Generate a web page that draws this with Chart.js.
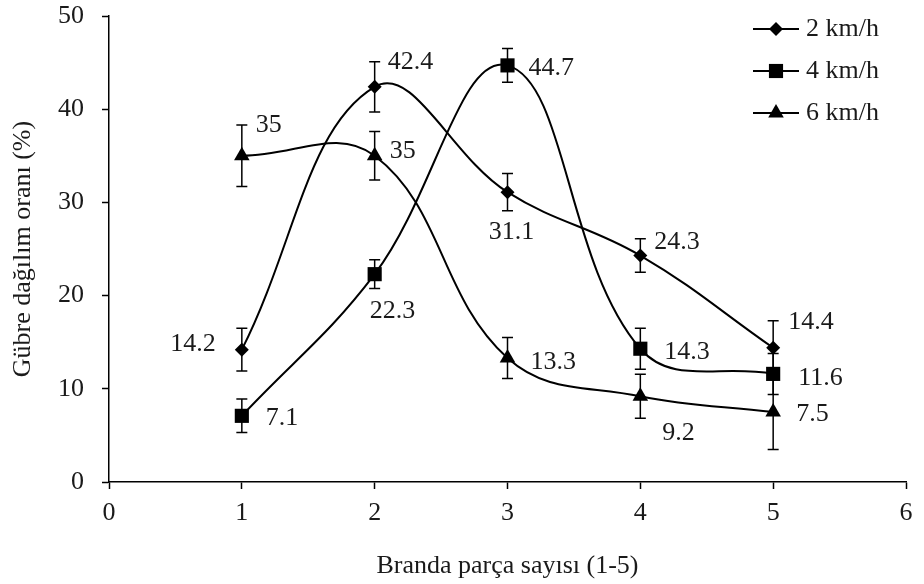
<!DOCTYPE html>
<html>
<head>
<meta charset="utf-8">
<script src="https://cdn.jsdelivr.net/npm/chart.js@4"></script>
<style>
  html, body { margin: 0; padding: 0; background: #fff; }
</style>
</head>
<body>
<canvas id="chart" width="924" height="584"></canvas>
<script>
// values
const pieces = [1, 2, 3, 4, 5];
const seriesNames = ['2 km/h', '4 km/h', '6 km/h'];
const rate2 = [14.2, 42.4, 31.1, 24.3, 14.4];
const rate4 = [7.1, 22.3, 44.7, 14.3, 11.6];
const rate6 = [35, 35, 13.3, 9.2, 7.5];
const err2 = [2.3, 2.7, 2.0, 1.8, 2.9];
const err4 = [1.8, 1.55, 1.8, 2.2, 2.2];
const err6 = [3.3, 2.6, 2.2, 2.35, 4.0];
const xTicks = [0, 1, 2, 3, 4, 5, 6];
const yTicks = [0, 10, 20, 30, 40, 50];

const FONT = '"Liberation Serif", "Times New Roman", serif';
const INK = '#1a1a1a';

// label placement next to each point: [dx, dy, align]
const labelPos = [
  [[-26, -5, 'right'], [13, -25, 'left'], [4, 40, 'center'], [14, -13, 'left'], [15, -26, 'left']],
  [[24, 2, 'left'], [-5, 37, 'left'], [21, 3, 'left'], [24, 3, 'left'], [25, 4, 'left']],
  [[14, -31, 'left'], [15, -5, 'left'], [23, 4, 'left'], [22, 37, 'left'], [23, 2, 'left']]
];
const markers = [
  { style: 'rectRot', radius: 7 },
  { style: 'rect', radius: 10 },
  { style: 'triangle', radius: 9 }
];

function drawMarker(ctx, style, x, y, r) {
  ctx.beginPath();
  if (style === 'rectRot') {
    ctx.moveTo(x, y - r); ctx.lineTo(x + r, y); ctx.lineTo(x, y + r); ctx.lineTo(x - r, y);
  } else if (style === 'rect') {
    const s = r * Math.SQRT1_2;
    ctx.rect(x - s, y - s, 2 * s, 2 * s);
  } else {
    ctx.moveTo(x, y - r);
    ctx.lineTo(x + r * Math.cos(Math.PI / 6), y + r / 2);
    ctx.lineTo(x - r * Math.cos(Math.PI / 6), y + r / 2);
  }
  ctx.closePath();
  ctx.fill();
}

const errorBars = {
  id: 'errorBars',
  beforeDatasetsDraw(chart) {
    const ctx = chart.ctx, ys = chart.scales.y;
    ctx.save();
    ctx.strokeStyle = '#000';
    ctx.lineWidth = 1.5;
    chart.data.datasets.forEach((ds, i) => {
      chart.getDatasetMeta(i).data.forEach((pt, j) => {
        const v = ds.data[j].y, e = ds.errors[j];
        const t = ys.getPixelForValue(v + e), b = ys.getPixelForValue(v - e);
        ctx.beginPath();
        ctx.moveTo(pt.x, t); ctx.lineTo(pt.x, b);
        ctx.moveTo(pt.x - 5.5, t); ctx.lineTo(pt.x + 5.5, t);
        ctx.moveTo(pt.x - 5.5, b); ctx.lineTo(pt.x + 5.5, b);
        ctx.stroke();
      });
    });
    ctx.restore();
  }
};

const valueLabels = {
  id: 'valueLabels',
  afterDatasetsDraw(chart) {
    const ctx = chart.ctx;
    ctx.save();
    ctx.font = '26px ' + FONT;
    ctx.fillStyle = INK;
    ctx.textBaseline = 'middle';
    chart.data.datasets.forEach((ds, i) => {
      chart.getDatasetMeta(i).data.forEach((pt, j) => {
        const p = labelPos[i][j];
        ctx.textAlign = p[2];
        ctx.fillText(String(ds.data[j].y), pt.x + p[0], pt.y + p[1]);
      });
    });
    ctx.restore();
  }
};

const seriesLegend = {
  id: 'seriesLegend',
  afterDraw(chart) {
    const ctx = chart.ctx;
    const x0 = chart.chartArea.right - 153;
    ctx.save();
    ctx.font = '26px ' + FONT;
    ctx.textBaseline = 'middle';
    ctx.textAlign = 'left';
    chart.data.datasets.forEach((ds, i) => {
      const y = 29 + i * 42;
      ctx.strokeStyle = '#000';
      ctx.lineWidth = 2;
      ctx.beginPath(); ctx.moveTo(x0, y); ctx.lineTo(x0 + 46, y); ctx.stroke();
      ctx.fillStyle = '#000';
      drawMarker(ctx, markers[i].style, x0 + 23, y, markers[i].radius);
      ctx.fillStyle = INK;
      ctx.fillText(ds.label, x0 + 53, y);
    });
    ctx.restore();
  }
};

function makeSet(name, vals, errs, i) {
  return {
    label: name,
    data: pieces.map((x, k) => ({ x: x, y: vals[k] })),
    errors: errs,
    borderColor: '#000',
    backgroundColor: '#000',
    borderWidth: 2,
    tension: 0.4,
    pointStyle: markers[i].style,
    pointRadius: markers[i].radius,
    pointHoverRadius: markers[i].radius,
    pointBorderWidth: 0
  };
}

Chart.defaults.font.family = FONT;
Chart.defaults.font.size = 26;
Chart.defaults.color = INK;

new Chart(document.getElementById('chart'), {
  type: 'line',
  data: {
    datasets: [
      makeSet(seriesNames[0], rate2, err2, 0),
      makeSet(seriesNames[1], rate4, err4, 1),
      makeSet(seriesNames[2], rate6, err6, 2)
    ]
  },
  options: {
    responsive: false,
    animation: false,
    devicePixelRatio: 1,
    layout: { padding: { top: 2, right: 18, left: 0, bottom: 0 } },
    plugins: { legend: { display: false }, tooltip: { enabled: false } },
    scales: {
      x: {
        type: 'linear',
        min: xTicks[0],
        max: xTicks[xTicks.length - 1],
        afterBuildTicks: s => { s.ticks = xTicks.map(v => ({ value: v })); },
        afterFit: s => { s.height = 102; },
        ticks: { padding: 9, color: INK },
        grid: { display: true, drawOnChartArea: false, drawTicks: true, tickLength: 7, tickColor: '#000', tickWidth: 1.5 },
        border: { display: true, color: '#000', width: 1.5 },
        title: { display: true, text: 'Branda parça sayısı (1-5)', color: INK, padding: { top: 0, bottom: 2 } }
      },
      y: {
        min: yTicks[0],
        max: yTicks[yTicks.length - 1],
        afterBuildTicks: s => { s.ticks = yTicks.map(v => ({ value: v })); },
        afterFit: s => { s.width = 109; s.paddingTop = 16; s.paddingBottom = 16; },
        ticks: { padding: 18, color: INK },
        grid: { display: true, drawOnChartArea: false, drawTicks: true, tickLength: 7, tickColor: '#000', tickWidth: 1.5 },
        border: { display: true, color: '#000', width: 1.5 },
        title: { display: true, text: 'Gübre dağılım oranı (%)', color: INK, padding: { top: 8, bottom: 0 } }
      }
    }
  },
  plugins: [errorBars, valueLabels, seriesLegend]
});
</script>
</body>
</html>
